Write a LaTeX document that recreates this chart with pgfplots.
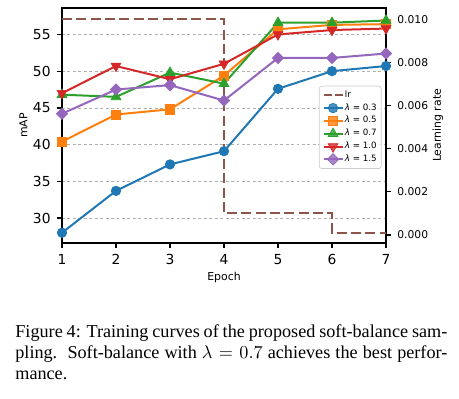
\documentclass[border=0pt]{standalone}
\usepackage{fontspec}
\setmainfont{DejaVu Sans}
\newfontfamily\capfont{Liberation Serif}
\usepackage{pgfplots}
\pgfplotsset{compat=1.18}
\definecolor{c0}{HTML}{1F77B4}
\definecolor{c1}{HTML}{FF7F0E}
\definecolor{c2}{HTML}{2CA02C}
\definecolor{c3}{HTML}{D62728}
\definecolor{c4}{HTML}{9467BD}
\definecolor{c5}{HTML}{8C564B}
\definecolor{gridc}{HTML}{B0B0B0}
\pgfplotsset{
  common/.style={
    scale only axis, width=178.2pt, height=129.25pt,
    at={(34.1pt,-133.65pt)}, anchor=south west,
    xmin=1, xmax=7,
  },
}
\begin{document}
\begin{tikzpicture}
\useasboundingbox (0pt,0pt) rectangle (252.45pt,-219.45pt);
% axis A: frame, grid, left and bottom ticks
\begin{axis}[common,
  ymin=26.6, ymax=58.6,
  xtick={1,2,3,4,5,6,7}, ytick={30,35,40,45,50,55},
  tick align=outside, tick pos=left, major tick length=2.75pt,
  ymajorgrids, grid style={gridc, line width=0.4pt, dash pattern=on 1.6pt off 1.4pt},
  axis line style={line width=0.7pt}, tick style={line width=0.7pt, black},
  tick label style={font=\fontsize{7.6}{9}\selectfont},
  /pgf/number format/assume math mode=true,
  xlabel={Epoch}, ylabel={mAP},
  label style={font=\fontsize{6}{7}\selectfont},
  xlabel style={at={(axis description cs:0.5,-0.148)}, anchor=center},
  ylabel style={at={(axis description cs:-0.119,0.5)}, anchor=center},
]
\end{axis}
% axis B: learning rate
\begin{axis}[common,
  ymin=-0.000371, ymax=0.01052,
  axis x line=none, axis y line*=right,
  ytick={0,0.002,0.004,0.006,0.008,0.01},
  scaled y ticks=false,
  yticklabel style={/pgf/number format/.cd, fixed, fixed zerofill, precision=3, assume math mode=true},
  tick align=outside, major tick length=2.75pt,
  axis line style={line width=0.7pt}, tick style={line width=0.7pt, black},
  tick label style={font=\fontsize{5.9}{7}\selectfont},
  ylabel={Learning rate},
  label style={font=\fontsize{6}{7}\selectfont},
  ylabel style={at={(axis description cs:1.16,0.5)}, anchor=center},
]
\addplot[c5, line width=1.1pt, dash pattern=on 5.5pt off 2.4pt] coordinates {
  (1,0.01) (4,0.01) (4,0.001) (6,0.001) (6,0.0001) (7,0.0001)
};
\end{axis}
% axis C: mAP curves and legend
\begin{axis}[common,
  ymin=26.6, ymax=58.6,
  axis lines=none, xtick=\empty, ytick=\empty,
  legend cell align=left,
  legend style={at={(0.9867,0.6694)}, anchor=north east,
    draw=black!20, rounded corners=1.5pt, fill=white, fill opacity=0.8, text opacity=1,
    font=\fontsize{4.8}{5.8}\selectfont, row sep=0.5pt, inner sep=1.8pt,
    nodes={inner sep=0.7pt}},
  legend image code/.code={\draw[mark repeat=2,mark phase=2,#1] plot coordinates {(0pt,0pt)(5.25pt,0pt)(10.5pt,0pt)};},
  every axis plot/.append style={line width=1.1pt},
]
\addlegendimage{c5, line width=1.1pt, dash pattern=on 4.4pt off 1.7pt}
\addlegendentry{lr}
\addplot[c0, mark=*, mark size=2.6pt, mark options={solid, fill=c0, line width=0.4pt}] coordinates {
  (1,28.0) (2,33.7) (3,37.3) (4,39.1) (5,47.6) (6,50.0) (7,50.7)
};
\addlegendentry{\textit{λ} = 0.3}
\addplot[c1, mark=square*, mark size=2.5pt, mark options={solid, fill=c1, line width=0.4pt}] coordinates {
  (1,40.4) (2,44.1) (3,44.8) (4,49.4) (5,55.7) (6,56.3) (7,56.4)
};
\addlegendentry{\textit{λ} = 0.5}
\addplot[c2, mark=triangle*, mark size=3.1pt, mark options={solid, fill=c2, line width=0.4pt}] coordinates {
  (1,46.8) (2,46.5) (3,49.8) (4,48.3) (5,56.6) (6,56.6) (7,56.9)
};
\addlegendentry{\textit{λ} = 0.7}
\addplot[c3, mark=triangle*, mark size=3.1pt, mark options={solid, fill=c3, line width=0.4pt, rotate=180}] coordinates {
  (1,47.0) (2,50.7) (3,48.9) (4,51.0) (5,55.0) (6,55.6) (7,55.8)
};
\addlegendentry{\textit{λ} = 1.0}
\addplot[c4, mark=square*, mark size=2.2pt, mark options={solid, fill=c4, line width=0.4pt, rotate=45}] coordinates {
  (1,44.2) (2,47.5) (3,48.1) (4,46.0) (5,51.8) (6,51.8) (7,52.4)
};
\addlegendentry{\textit{λ} = 1.5}
\end{axis}
\node[anchor=base west, inner sep=0pt] at (8.25pt,-185.35pt) {\parbox[t]{237.6pt}{\capfont\fontsize{10}{11.8}\selectfont\emergencystretch=1em Figure 4: Training curves of the proposed soft-balance sam-\linebreak pling.\ \ Soft-balance with $\lambda = 0.7$ achieves the best perfor-\linebreak mance.}};
\end{tikzpicture}
\end{document}
